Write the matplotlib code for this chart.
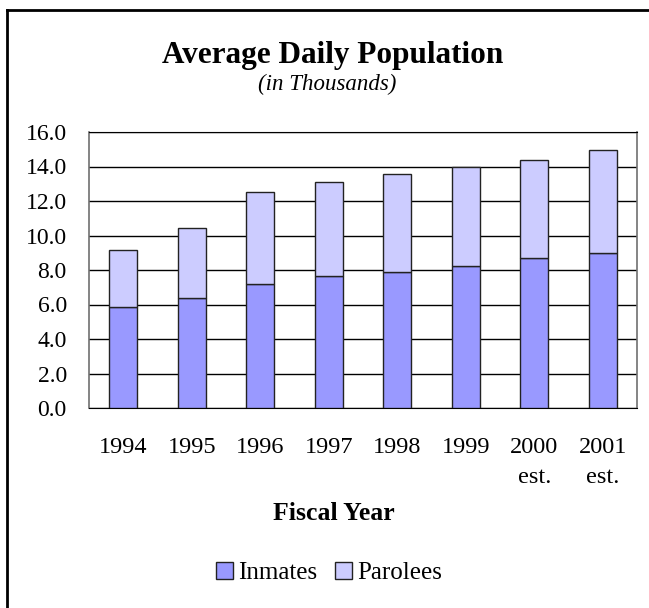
import matplotlib.pyplot as plt
from matplotlib.lines import Line2D
import numpy as np

years = ['1994', '1995', '1996', '1997', '1998', '1999', '2000\nest.', '2001\nest.']
inmates = [5.87, 6.36, 7.17, 7.63, 7.87, 8.21, 8.70, 9.00]
totals = [9.16, 10.42, 12.50, 13.08, 13.55, 13.99, 14.36, 14.94]
parolees = [t - i for t, i in zip(totals, inmates)]

plt.rcParams['font.family'] = ['Liberation Serif', 'DejaVu Serif']

W, H = 649, 608
fig = plt.figure(figsize=(W / 100, H / 100), dpi=100)
ax = fig.add_axes([89 / W, 1 - 408 / H, (637 - 89) / W, (408 - 132) / H])

x = np.arange(len(years))
ax.bar(x, inmates, width=0.41, color='#9999FF', edgecolor='#222222',
       linewidth=1, label='Inmates', zorder=3)
ax.bar(x, parolees, bottom=inmates, width=0.41, color='#CCCCFF',
       edgecolor='#222222', linewidth=1, label='Parolees', zorder=3)

ax.set_xlim(-0.5, 7.5)
ax.set_ylim(0, 16)
ax.set_yticks(np.arange(0, 16.1, 2))
ax.set_yticklabels(['%.1f' % v for v in np.arange(0, 16.1, 2)], fontsize=17)
ax.set_xticks(x)
ax.set_xticklabels(years, fontsize=17.5, linespacing=1.55, va='top')
ax.tick_params(axis='both', length=0)
ax.tick_params(axis='y', pad=16)
ax.tick_params(axis='x', pad=21)
ax.yaxis.grid(True, color='black', linewidth=1, zorder=0)
ax.set_axisbelow(True)
for side in ['top', 'bottom']:
    ax.spines[side].set_color('black')
for side in ['left', 'right']:
    ax.spines[side].set_color('#707070')
    ax.spines[side].set_linewidth(1.2)

# titles
fig.text(333 / W, 1 - 56 / H, 'Average Daily Population', fontsize=22.5,
         fontweight='bold', ha='center', va='center')
fig.text(327 / W, 1 - 84 / H, '(in Thousands)', fontsize=16.5,
         style='italic', ha='center', va='center')
fig.text(334 / W, 1 - 513 / H, 'Fiscal Year', fontsize=18.5,
         fontweight='bold', ha='center', va='center')

handles, labels = ax.get_legend_handles_labels()
fig.legend(handles, labels, loc='center', bbox_to_anchor=(329 / W, 1 - 573 / H),
           ncol=2, frameon=False, fontsize=18, handlelength=0.7,
           handleheight=0.7, handletextpad=0.2, columnspacing=0.7)

# outer border (only left and top visible)
fig.add_artist(Line2D([7 / W, 7 / W], [0, 1 - 10 / H], color='black',
                      linewidth=2, transform=fig.transFigure))
fig.add_artist(Line2D([7 / W, 1], [1 - 10 / H, 1 - 10 / H], color='black',
                      linewidth=2, transform=fig.transFigure))

fig.savefig('out.png', dpi=100)
